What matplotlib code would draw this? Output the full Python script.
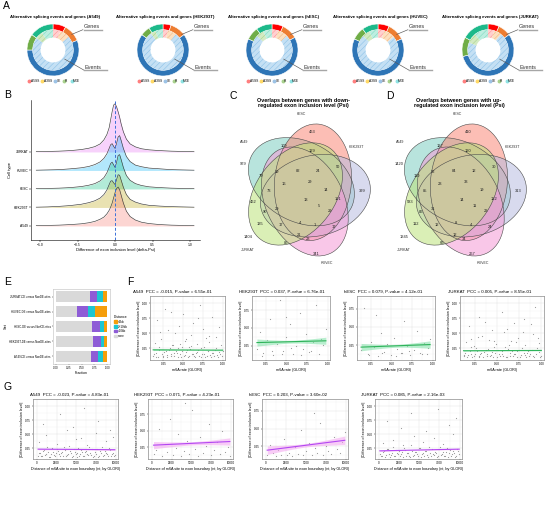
import numpy as np
import matplotlib
matplotlib.use('Agg')
import matplotlib.pyplot as plt
from matplotlib.patches import Ellipse, Patch
from matplotlib.lines import Line2D

plt.rcParams['font.family'] = ['Liberation Sans', 'DejaVu Sans']
plt.rcParams['hatch.linewidth'] = 0.35
plt.rcParams['axes.linewidth'] = 0.4

# ---------------- data ----------------
# A: share (%) of each splicing type, outer ring = genes, inner ring = events
splice_types = ['A5SS', 'A3SS', 'SE', 'RI', 'MXE']
donut_cells = ['A549', 'HEK293T', 'hESC', 'HUVEC', 'JURKAT']
genes_share = [[8, 11, 56, 10, 15], [5, 10, 70, 6, 9], [7, 10, 65, 8, 10],
               [7, 11, 64, 8, 10], [7, 8, 56, 12, 17]]
events_share = [[6, 8, 71, 6, 9], [4, 7, 79, 4, 6], [5, 8, 74, 6, 7],
                [5, 9, 73, 6, 7], [5, 6, 70, 8, 11]]

# B: density of delta-Psi
ridge_cells = ['A549', 'HEK293T', 'hESC', 'HUVEC', 'JURKAT']
ridge_x = [-1.05, -0.9, -0.75, -0.6, -0.45, -0.35, -0.27, -0.2, -0.15, -0.11, -0.08, -0.06,
           -0.04, -0.02, 0.0, 0.02, 0.04, 0.06, 0.08, 0.11, 0.15, 0.2, 0.27, 0.35, 0.45,
           0.6, 0.75, 0.9, 1.05]
dens_A549 = [0.01, 0.02, 0.03, 0.05, 0.08, 0.12, 0.17, 0.25, 0.33, 0.45, 0.58, 0.70, 0.85,
             1.05, 1.25, 1.40, 1.45, 1.35, 1.15, 0.85, 0.55, 0.35, 0.22, 0.14, 0.09, 0.05,
             0.03, 0.02, 0.01]
dens_HEK293T = [0.01, 0.02, 0.04, 0.07, 0.12, 0.18, 0.25, 0.35, 0.48, 0.65, 0.85, 0.98, 1.0,
                0.92, 0.85, 1.05, 1.22, 1.2, 1.02, 0.75, 0.48, 0.30, 0.2, 0.13, 0.08, 0.05,
                0.03, 0.02, 0.01]
dens_hESC = [0.01, 0.02, 0.03, 0.05, 0.09, 0.14, 0.2, 0.3, 0.42, 0.6, 0.8, 0.95, 1.0, 0.9,
             0.8, 1.0, 1.25, 1.28, 1.1, 0.8, 0.5, 0.32, 0.2, 0.13, 0.08, 0.05, 0.03, 0.02, 0.01]
dens_HUVEC = [0.01, 0.02, 0.03, 0.06, 0.1, 0.15, 0.22, 0.32, 0.45, 0.62, 0.82, 0.96, 1.0,
              0.9, 0.82, 1.02, 1.25, 1.3, 1.12, 0.82, 0.52, 0.33, 0.2, 0.14, 0.09, 0.06,
              0.03, 0.02, 0.01]
dens_JURKAT = [0.01, 0.02, 0.03, 0.05, 0.09, 0.14, 0.2, 0.3, 0.45, 0.65, 0.9, 1.2, 1.5,
               1.75, 1.8, 1.68, 1.5, 1.3, 1.05, 0.75, 0.48, 0.3, 0.19, 0.12, 0.08, 0.05,
               0.03, 0.02, 0.01]

# C/D: five-set Venn counts (same region order for both)
venn_sets = ['A549', 'hESC', 'HEK293T', 'HUVEC', 'JURKAT']
down_counts = [463, 109, 129, 979, 79, 19, 82, 24, 50, 399, 16, 29, 73, 14, 462, 13, 101,
               90, 29, 5, 29, 135, 17, 4, 1, 17, 1404, 85, 21, 23, 341]
up_counts = [410, 127, 120, 1420, 110, 32, 84, 12, 30, 313, 23, 33, 85, 19, 583, 14, 122,
             86, 31, 11, 23, 112, 12, 8, 4, 24, 1345, 66, 12, 34, 267]

# E: fraction of m6A distance classes
e_sets = ['JURKAT-DE versus NonDE-sites', 'HUVEC-DE versus NonDE-sites',
          'hESC-DE versus NonDE-sites', 'HEK293T-DE versus NonDE-sites',
          'A549-DE versus NonDE-sites']
dist_classes = ['none', '>10kb', '2~10kb', '<2kb']
frac_none = [0.67, 0.41, 0.70, 0.72, 0.69]
frac_far = [0.13, 0.21, 0.155, 0.15, 0.13]
frac_mid = [0.11, 0.15, 0.08, 0.06, 0.09]
frac_near = [0.09, 0.23, 0.065, 0.07, 0.09]

# F: m6A rate vs |delta-Psi|
f_A549_x = [0.12, 0.15, 0.18, 0.2, 0.23, 0.25, 0.28, 0.3, 0.33, 0.35, 0.38, 0.41, 0.43, 0.46,
            0.48, 0.51, 0.53, 0.56, 0.59, 0.61, 0.64, 0.66, 0.69, 0.72, 0.74, 0.77, 0.8, 0.82,
            0.85, 0.88, 0.9, 0.93, 0.96, 0.99, 0.14, 0.22, 0.31, 0.37, 0.45, 0.52, 0.6, 0.67,
            0.75, 0.83, 0.91, 0.98, 0.17, 0.27, 0.4, 0.5, 0.63, 0.71, 0.79, 0.87, 0.95,
            0.13, 0.16, 0.19, 0.24, 0.26, 0.29, 0.32, 0.34, 0.36, 0.39, 0.42, 0.44, 0.47, 0.49,
            0.52, 0.55, 0.57, 0.6, 0.62, 0.65, 0.68, 0.7, 0.73, 0.76, 0.78, 0.81, 0.84, 0.86,
            0.89, 0.92, 0.94, 0.97, 1.0, 0.21, 0.35, 0.54, 0.69, 0.83, 0.58, 0.46]
f_A549_y = [0.12, 0.18, 0.11, 0.23, 0.15, 0.1, 0.2, 0.14, 0.26, 0.12, 0.17, 0.21, 0.11, 0.16,
            0.28, 0.13, 0.19, 0.1, 0.24, 0.15, 0.12, 0.18, 0.22, 0.11, 0.16, 0.27, 0.13, 0.2,
            0.1, 0.17, 0.23, 0.14, 0.19, 0.12, 0.34, 0.41, 0.55, 0.3, 0.63, 0.38, 0.47, 0.33,
            0.58, 0.36, 0.44, 0.31, 0.72, 0.9, 0.51, 0.82, 0.68, 0.97, 0.43, 0.77, 0.61,
            0.16, 0.1, 0.28, 0.13, 0.19, 0.11, 0.22, 0.15, 0.3, 0.12, 0.17, 0.25, 0.1, 0.2,
            0.14, 0.23, 0.12, 0.29, 0.16, 0.11, 0.19, 0.13, 0.26, 0.15, 0.1, 0.21, 0.14, 0.18,
            0.12, 0.25, 0.11, 0.16, 0.2, 0.52, 0.86, 0.4, 0.75, 0.46, 0.27, 0.33]
f_HEK_x = [0.14, 0.18, 0.22, 0.26, 0.3, 0.34, 0.38, 0.42, 0.46, 0.5, 0.54, 0.58, 0.62, 0.66,
           0.7, 0.74, 0.78, 0.82, 0.86, 0.9, 0.94, 0.98, 0.2, 0.32, 0.44, 0.56, 0.68, 0.8,
           0.92, 0.5]
f_HEK_y = [0.21, 0.45, 0.15, 0.33, 0.62, 0.12, 0.28, 0.9, 0.18, 0.38, 0.55, 0.14, 0.25, 0.71,
           0.2, 0.42, 0.16, 0.31, 0.83, 0.13, 0.26, 0.48, 0.11, 0.18, 0.14, 0.22, 0.12, 0.17,
           0.35, 0.65]
f_hESC_x = [0.13, 0.17, 0.21, 0.25, 0.29, 0.33, 0.37, 0.41, 0.45, 0.49, 0.53, 0.57, 0.61,
            0.65, 0.69, 0.73, 0.77, 0.81, 0.85, 0.89, 0.93, 0.97, 0.23, 0.39, 0.55, 0.71,
            0.87, 0.31, 0.63, 0.95]
f_hESC_y = [0.18, 0.76, 0.13, 0.3, 0.22, 0.11, 0.42, 0.16, 0.27, 0.12, 0.35, 0.2, 0.14, 0.58,
            0.24, 0.12, 0.19, 0.45, 0.15, 0.28, 0.13, 0.33, 0.12, 0.14, 0.11, 0.17, 0.13,
            0.66, 0.15, 0.21]
f_JURKAT_x = [0.13, 0.16, 0.19, 0.21, 0.24, 0.26, 0.29, 0.32, 0.34, 0.37, 0.39, 0.42, 0.44,
              0.47, 0.5, 0.52, 0.55, 0.57, 0.6, 0.62, 0.65, 0.68, 0.7, 0.73, 0.76, 0.78, 0.81,
              0.84, 0.86, 0.89, 0.92, 0.94, 0.97, 1.0, 0.15, 0.24, 0.33, 0.41, 0.49, 0.58,
              0.66, 0.74, 0.82, 0.9, 0.97, 0.18, 0.3, 0.44, 0.56, 0.69, 0.8, 0.93, 0.2, 0.61,
              0.88, 0.12, 0.14, 0.17, 0.2, 0.22, 0.25, 0.27, 0.3, 0.31, 0.35, 0.38, 0.4, 0.43,
              0.45, 0.48, 0.51, 0.53, 0.56, 0.59, 0.61, 0.64, 0.67, 0.69, 0.72, 0.75, 0.77,
              0.8, 0.83, 0.85, 0.87, 0.91, 0.95, 0.98, 0.28, 0.46, 0.63, 0.79, 0.96, 0.36, 0.71]
f_JURKAT_y = [0.14, 0.11, 0.2, 0.16, 0.12, 0.25, 0.13, 0.18, 0.1, 0.22, 0.15, 0.12, 0.19,
              0.27, 0.11, 0.16, 0.21, 0.13, 0.1, 0.24, 0.17, 0.12, 0.15, 0.2, 0.11, 0.26,
              0.14, 0.18, 0.12, 0.23, 0.1, 0.16, 0.19, 0.13, 0.35, 0.29, 0.46, 0.39, 0.32,
              0.52, 0.37, 0.43, 0.3, 0.49, 0.34, 0.62, 0.78, 0.56, 0.85, 0.68, 0.74, 0.94,
              0.41, 0.58, 0.66, 0.12, 0.18, 0.14, 0.27, 0.11, 0.16, 0.21, 0.1, 0.15, 0.19,
              0.12, 0.24, 0.14, 0.1, 0.17, 0.22, 0.12, 0.15, 0.28, 0.11, 0.13, 0.2, 0.16, 0.1,
              0.23, 0.14, 0.18, 0.11, 0.21, 0.15, 0.13, 0.26, 0.11, 0.44, 0.38, 0.31, 0.53,
              0.42, 0.69, 0.36]
f_titles = ['A549  PCC = -0.015, P-value = 6.55e-01', 'HEK293T  PCC = 0.037, P-value = 6.76e-01',
            'hESC  PCC = 0.079, P-value = 4.12e-01', 'JURKAT  PCC = 0.005, P-value = 8.55e-01']
f_fit = [(0.225, 0.22), (0.295, 0.32), (0.225, 0.26), (0.21, 0.215)]
f_band = [(0.006, 0.012), (0.02, 0.05), (0.02, 0.05), (0.004, 0.008)]

# G: distance to exon boundary vs |delta-Psi|
g_A549_x = [150, 400, 650, 900, 1150, 1400, 1650, 1900, 2150, 2400, 2650, 2900, 3150, 3400,
            3650, 3900, 4150, 4400, 4650, 4900, 5150, 5400, 5650, 5900, 6150, 6400, 6650,
            6900, 7150, 7400, 7650, 7900, 8150, 8400, 8650, 8900, 9150, 9400, 9650, 9900,
            300, 1200, 2500, 3800, 5000, 6300, 7500, 8800, 9700, 800, 2900, 4600, 6000,
            7800, 9300, 250, 520, 780, 1030, 1280, 1530, 1780, 2030, 2280, 2530, 2780, 3030,
            3280, 3530, 3780, 4030, 4280, 4530, 4780, 5030, 5280, 5530, 5780, 6030, 6280,
            6530, 6780, 7030, 7280, 7530, 7780, 8030, 8280, 8530, 8780, 9030, 9280, 9530,
            9780, 5600]
g_A549_y = [0.12, 0.17, 0.11, 0.22, 0.14, 0.19, 0.1, 0.25, 0.13, 0.16, 0.21, 0.11, 0.18,
            0.28, 0.12, 0.15, 0.2, 0.1, 0.24, 0.14, 0.17, 0.12, 0.22, 0.11, 0.19, 0.15, 0.27,
            0.13, 0.1, 0.18, 0.23, 0.12, 0.16, 0.11, 0.2, 0.14, 0.26, 0.12, 0.17, 0.13, 0.36,
            0.48, 0.33, 0.57, 0.41, 0.3, 0.52, 0.38, 0.45, 0.68, 0.86, 0.62, 0.97, 0.74, 0.58,
            0.16, 0.11, 0.2, 0.13, 0.27, 0.1, 0.15, 0.19, 0.12, 0.24, 0.14, 0.17, 0.11, 0.22,
            0.13, 0.29, 0.16, 0.12, 0.19, 0.1, 0.25, 0.14, 0.18, 0.11, 0.21, 0.13, 0.16, 0.23,
            0.12, 0.15, 0.1, 0.2, 0.27, 0.13, 0.17, 0.11, 0.22, 0.15, 0.12, 0.44]
g_HEK_x = [200, 550, 900, 1250, 1600, 1950, 2300, 2650, 3000, 3350, 3700, 4050, 4400, 4750,
           5100, 5450, 5800, 6150, 6500, 6850, 7200, 7550, 7900, 8250, 8600, 8950, 9300,
           9650, 9900, 4200]
g_HEK_y = [0.14, 0.2, 0.52, 0.12, 0.3, 0.17, 0.68, 0.13, 0.24, 0.45, 0.11, 0.19, 0.35, 0.15,
           0.82, 0.22, 0.12, 0.4, 0.16, 0.27, 0.6, 0.13, 0.21, 0.33, 0.14, 0.5, 0.18, 0.25,
           0.12, 0.92]
g_hESC_x = [150, 500, 850, 1200, 1550, 1900, 2250, 2600, 2950, 3300, 3650, 4000, 4350, 4700,
            5050, 5400, 5750, 6100, 6450, 6800, 7150, 7500, 7850, 8200, 8550, 8900, 9250,
            9600, 9900, 6000]
g_hESC_y = [0.12, 0.27, 0.15, 0.11, 0.2, 0.13, 0.35, 0.12, 0.16, 0.11, 0.24, 0.14, 0.48,
            0.12, 0.18, 0.3, 0.13, 0.22, 0.15, 0.58, 0.12, 0.26, 0.19, 0.14, 0.38, 0.21,
            0.16, 0.31, 0.45, 0.72]
g_JURKAT_x = [100, 350, 600, 850, 1100, 1350, 1600, 1850, 2100, 2350, 2600, 2850, 3100, 3350,
              3600, 3850, 4100, 4350, 4600, 4850, 5100, 5350, 5600, 5850, 6100, 6350, 6600,
              6850, 7100, 7350, 7600, 7850, 8100, 8350, 8600, 8850, 9100, 9350, 9600, 9850,
              500, 1700, 3000, 4300, 5500, 6800, 8000, 9200, 1000, 2700, 4000, 5800, 7300,
              8700, 9500, 200, 450, 700, 950, 1200, 1450, 1700, 1950, 2200, 2450, 2700, 2950,
              3200, 3450, 3700, 3950, 4200, 4450, 4700, 4950, 5200, 5450, 5700, 5950, 6200,
              6450, 6700, 6950, 7200, 7450, 7700, 7950, 8200, 8450, 8700, 8950, 9200, 9450,
              9700, 9950]
g_JURKAT_y = [0.15, 0.11, 0.2, 0.13, 0.24, 0.1, 0.17, 0.12, 0.22, 0.14, 0.11, 0.19, 0.26,
              0.12, 0.16, 0.1, 0.21, 0.13, 0.18, 0.11, 0.25, 0.14, 0.12, 0.2, 0.1, 0.16, 0.23,
              0.13, 0.17, 0.11, 0.28, 0.15, 0.12, 0.19, 0.1, 0.22, 0.14, 0.17, 0.12, 0.2,
              0.34, 0.4, 0.31, 0.47, 0.36, 0.43, 0.33, 0.5, 0.73, 0.61, 0.88, 0.55, 0.95,
              0.67, 0.79, 0.12, 0.18, 0.1, 0.23, 0.15, 0.13, 0.27, 0.11, 0.17, 0.2, 0.14, 0.1,
              0.22, 0.16, 0.12, 0.3, 0.11, 0.19, 0.14, 0.25, 0.1, 0.17, 0.21, 0.13, 0.28, 0.12,
              0.15, 0.19, 0.1, 0.24, 0.13, 0.18, 0.11, 0.26, 0.16, 0.12, 0.2, 0.1, 0.23, 0.15]
g_titles = ['A549  PCC = -0.023, P-value = 4.83e-01', 'HEK293T  PCC = 0.071, P-value = 4.23e-01',
            'hESC  PCC = 0.203, P-value = 3.60e-02', 'JURKAT  PCC = 0.085, P-value = 2.16e-03']
g_fit = [(0.235, 0.225), (0.28, 0.335), (0.195, 0.335), (0.205, 0.235)]
g_band = [(0.006, 0.012), (0.025, 0.055), (0.025, 0.06), (0.004, 0.009)]

# ---------------- figure ----------------
W, H = 546, 505
fig = plt.figure(figsize=(W / 100, H / 100), dpi=100)


def px_axes(x0, y0, x1, y1):
    return fig.add_axes([x0 / W, 1 - y1 / H, (x1 - x0) / W, (y1 - y0) / H])


def fig_text(x, y, s, **kw):
    fig.text(x / W, 1 - y / H, s, **kw)


for lab, (x, y) in zip('ABCDEFG', [(3, 1), (4, 90), (230, 91), (386, 91),
                                   (4, 277), (127, 277), (4, 382)]):
    fig_text(x, y, lab, fontsize=7.5, va='top', ha='left')

# ---- A: donuts ----
outer_cols = ['#FF0000', '#ED7D31', '#2E75B6', '#70AD47', '#1DB98A']
inner_cols = ['#FFD0D0', '#FCE0C0', '#C4E0F4', '#D3EAC2', '#BDEEE0']
hatch_cols = ['#FF8C8C', '#F3B27A', '#86BEE6', '#A3D085', '#78D9BF']
legend_cols = ['#FF7F7F', '#FFD966', '#9DC3E6', '#A9D18E', '#8FE3E3']
donut_cx = [53, 163, 272, 378, 488]
R = 26
for i, cell in enumerate(donut_cells):
    cx, cy = donut_cx[i], 50
    ax = px_axes(cx - 1.1 * R, cy - 1.1 * R, cx + 2.2 * R, cy + 1.1 * R)
    ax.pie(genes_share[i], radius=1, startangle=90, counterclock=False, colors=outer_cols,
           wedgeprops=dict(width=0.22, edgecolor='white', linewidth=0.4))
    wedges, _ = ax.pie(events_share[i], radius=0.78, startangle=90, counterclock=False,
                       colors=inner_cols, hatch='//////',
                       wedgeprops=dict(width=0.3, linewidth=0))
    for w, hc in zip(wedges, hatch_cols):
        w.set_edgecolor(hc)
    ax.set_aspect('auto')
    ax.set_xlim(-1.1, 2.2)
    ax.set_ylim(-1.1, 1.1)
    ax.axis('off')
    ax.plot([0.72, 1.15], [0.6, 0.78], color='#555555', lw=0.45)
    ax.text(1.2, 0.8, 'Genes', fontsize=4, va='bottom', ha='left', color='#333333')
    ax.plot([1.18, 1.88], [0.78, 0.78], color='#A6A6A6', lw=1.0)
    ax.plot([0.45, 1.2], [-0.35, -0.78], color='#555555', lw=0.45)
    ax.text(1.22, -0.76, 'Events', fontsize=4, va='bottom', ha='left', color='#333333')
    ax.plot([1.2, 2.08], [-0.78, -0.78], color='#A6A6A6', lw=1.0)
    fig_text(cx + 2, 17, 'Alternative splicing events and genes (%s)' % cell,
             fontsize=3.1, fontweight='bold', ha='center', va='center')
    handles = [Line2D([], [], marker='o', ls='', color=c, markersize=1.8) for c in legend_cols]
    fig.legend(handles, splice_types, loc='center', ncol=5, fontsize=2.3,
               bbox_to_anchor=((cx + 1) / W, 1 - 81 / H), frameon=False,
               handletextpad=0.05, columnspacing=0.6, handlelength=0.8)

# ---- B: ridgeline ----
ridge_dens = [dens_A549, dens_HEK293T, dens_hESC, dens_HUVEC, dens_JURKAT]
ridge_cols = ['#F8766D', '#B7A000', '#00BF7D', '#00B0F6', '#E76BF3']
ridge_scale = 1.45
axB = px_axes(31, 100, 200, 240)
for k in range(4, -1, -1):
    top = np.array(ridge_dens[k]) * ridge_scale + k
    axB.fill_between(ridge_x, k, top, color=ridge_cols[k], alpha=0.3, lw=0)
    axB.plot(ridge_x, top, color='#3A3A3A', lw=0.45)
axB.axvline(0, color='#3B6FD8', lw=0.7, ls=(0, (3, 2)))
axB.set_xlim(-1.12, 1.13)
axB.set_ylim(-0.76, 6.81)
axB.set_yticks(range(5))
axB.set_yticklabels(ridge_cells)
axB.set_xticks([-1.0, -0.5, 0.0, 0.5, 1.0])
axB.tick_params(labelsize=2.4, length=1.2, width=0.35, pad=0.8)
axB.spines['top'].set_visible(False)
axB.spines['right'].set_visible(False)
axB.set_xlabel('Difference of exon inclusion level (delta-Psi)', fontsize=3, labelpad=0.8)
axB.set_ylabel('Cell type', fontsize=3, labelpad=1)

# ---- C/D: Venn ----
venn_cols = ['#7FCFC2', '#FB8A78', '#B8BCE0', '#F59AD6', '#BDE27A']
ell_center = [(-0.036, 0.069), (0.054, 0.065), (0.073, -0.035), (-0.009, -0.078), (-0.082, -0.022)]
ell_angle = [155, 84, 12, 120, 48]
S = 128
ell_w, ell_h = 0.87, 0.6
lab_kx, lab_ky, lab_dy = 1.2, 1.19, -8.5
y_stretch = 1.05
venn_label_xy = [(5, 54), (-18.5, 43), (5, 39), (-52, 29), (-37.5, 19), (-24, 22), (-7, 23),
                 (10, 23), (27, 26), (47, 7), (-18.5, 12.5), (3, 14.5), (-30.5, 7), (16.5, 8),
                 (-43.5, -1.3), (0, 0), (26.5, 0.5), (-33.7, -9.5), (-24, -7.6), (10.7, -5),
                 (20, -8.6), (-38, -19), (-20.8, -20), (-5.3, -18.3), (7.6, -19.7),
                 (23, -21.3), (-48, -30), (-16.5, -34.5), (-6, -28.3), (2, -31.3), (8.5, -43)]
set_label_xy = [(-62, 46.3), (-5, 73.7), (50, 41.7), (21, -68.6), (-58, -56.6)]
venn_titles = ['Overlaps between genes with down-\nregulated exon inclusion level (Psi)',
               'Overlaps between genes with up-\nregulated exon inclusion level (Psi)']
for counts, vcx, title in zip([down_counts, up_counts], [306, 462], venn_titles):
    vcy = 191
    ax = px_axes(vcx - 80, vcy - 80 * y_stretch, vcx + 80, vcy + 80 * y_stretch)
    for (ex, ey), ang, col in zip(ell_center, ell_angle, venn_cols):
        ax.add_patch(Ellipse((ex * S, ey * S), ell_w * S, ell_h * S, angle=ang,
                             facecolor=col, alpha=0.55, edgecolor='none'))
    for (ex, ey), ang in zip(ell_center, ell_angle):
        ax.add_patch(Ellipse((ex * S, ey * S), ell_w * S, ell_h * S, angle=ang,
                             fill=False, edgecolor='#4A4A4A', lw=0.4))
    for (lx, ly), n in zip(venn_label_xy, counts):
        ax.text(lx * lab_kx, ly * lab_ky + lab_dy, str(n), fontsize=2.9, ha='center',
                va='center', color='#222222')
    for (lx, ly), name in zip(set_label_xy, venn_sets):
        ax.text(lx, ly, name, fontsize=2.6, ha='center', va='center', color='#333333')
    ax.set_xlim(-80, 80)
    ax.set_ylim(-80, 80)
    ax.axis('off')
    fig_text(vcx - 3, 103, title, fontsize=3.9, fontweight='bold', ha='center', va='center',
             linespacing=1.1)

# ---- E: stacked bars ----
dist_cols = {'none': '#D9D9D9', '>10kb': '#8E5CD6', '2~10kb': '#1CC6D2', '<2kb': '#F59E0B'}
axE = px_axes(53, 289, 110, 364)
ypos = np.arange(5)[::-1]
left = np.zeros(5)
for cls, vals in zip(dist_classes, [frac_none, frac_far, frac_mid, frac_near]):
    axE.barh(ypos, vals, left=left, height=0.74, color=dist_cols[cls], lw=0)
    left = left + np.array(vals)
axE.set_xlim(-0.05, 1.05)
axE.set_ylim(-0.52, 4.51)
axE.set_yticks(ypos)
axE.set_yticklabels(e_sets)
axE.set_xticks([0, 0.25, 0.5, 0.75, 1.0])
axE.set_xticklabels(['0.00', '0.25', '0.50', '0.75', '1.00'])
axE.tick_params(labelsize=2.0, length=1, width=0.3, pad=0.6)
for sp in axE.spines.values():
    sp.set_color('#BDBDBD')
axE.set_xlabel('Fraction', fontsize=2.6, labelpad=0.6)
axE.set_ylabel('Set', fontsize=2.8, labelpad=1)
leg_handles = [Patch(color=dist_cols[c]) for c in ['<2kb', '2~10kb', '>10kb', 'none']]
axE.legend(leg_handles, ['<2kb', '2~10kb', '>10kb', 'none'], title='Distance',
           loc='center left', bbox_to_anchor=(1.02, 0.5), fontsize=2.2, title_fontsize=2.5,
           frameon=False, handlelength=0.9, handleheight=0.9, labelspacing=0.25,
           handletextpad=0.4, alignment='left')


# ---- F/G: scatter panels ----
def scatter_panel(box, title_x, title, xs, ys, fit, band, xlim, ylim, yticks, xticks,
                  xticklabels, xminor, xlabel, line_col, band_col):
    ax = px_axes(*box)
    ax.set_xlim(xlim)
    ax.set_ylim(ylim)
    ax.set_xticks(xticks)
    ax.set_xticklabels(xticklabels)
    ax.set_yticks(yticks)
    ax.set_yticklabels(['%.2f' % v for v in yticks])
    ax.set_xticks(xminor, minor=True)
    ax.set_yticks([v + 0.125 for v in [0.0] + list(yticks)], minor=True)
    ax.grid(True, which='major', color='#E3E3E3', lw=0.35)
    ax.grid(True, which='minor', color='#F0F0F0', lw=0.25)
    ax.tick_params(which='minor', length=0)
    ax.set_axisbelow(True)
    ax.scatter(xs, ys, s=0.7, color='#979797', linewidths=0)
    x0, x1 = min(xs), max(xs)
    xl = np.linspace(x0, x1, 60)
    t = (xl - (x0 + x1) / 2) / ((x1 - x0) / 2)
    yl = fit[0] + (fit[1] - fit[0]) * (xl - x0) / (x1 - x0)
    hw = np.sqrt(band[0] ** 2 + (band[1] ** 2 - band[0] ** 2) * t ** 2)
    ax.fill_between(xl, yl - hw, yl + hw, color=band_col, alpha=0.55, lw=0)
    ax.plot(xl, yl, color=line_col, lw=0.8)
    ax.tick_params(labelsize=2.2, length=1, width=0.3, pad=0.6)
    for sp in ax.spines.values():
        sp.set_color('#8C8C8C')
        sp.set_linewidth(0.5)
    ax.set_xlabel(xlabel, fontsize=2.7, labelpad=1)
    ax.set_ylabel('|Difference of exon inclusion level|', fontsize=2.6, labelpad=1)
    fig_text(title_x, box[1] - 2, title, fontsize=3.2, ha='left', va='bottom')
    return ax


f_data = [(f_A549_x, f_A549_y), (f_HEK_x, f_HEK_y), (f_hESC_x, f_hESC_y),
          (f_JURKAT_x, f_JURKAT_y)]
f_boxes = [(150, 296, 225, 360), (252, 296, 330, 360), (357, 296, 435, 360),
           (460, 296, 544, 360)]
f_title_x = [133, 239, 344, 448]
f_ylims = [(0.055, 1.045), (0.05, 0.95), (0.05, 0.92), (0.055, 1.045)]
f_yticks = [[0.25, 0.5, 0.75, 1.0], [0.25, 0.5, 0.75], [0.25, 0.5, 0.75], [0.25, 0.5, 0.75, 1.0]]
for i in range(4):
    scatter_panel(f_boxes[i], f_title_x[i], f_titles[i], f_data[i][0], f_data[i][1], f_fit[i],
                  f_band[i], (0.08, 1.03), f_ylims[i], f_yticks[i], [0.25, 0.5, 0.75, 1.0],
                  ['0.25', '0.50', '0.75', '1.00'], [0.125, 0.375, 0.625, 0.875],
                  'm6A rate (GLORI)', '#2FB35A', '#7EE0A6')

g_data = [(g_A549_x, g_A549_y), (g_HEK_x, g_HEK_y), (g_hESC_x, g_hESC_y),
          (g_JURKAT_x, g_JURKAT_y)]
g_boxes = [(33, 399, 118, 459), (148, 399, 233, 459), (262, 399, 348, 459),
           (375, 399, 462, 459)]
g_title_x = [30, 134, 249, 361]
g_ylims = [(0.06, 1.02), (0.07, 0.98), (0.07, 0.92), (0.06, 1.02)]
g_yticks = [[0.25, 0.5, 0.75, 1.0], [0.25, 0.5, 0.75], [0.25, 0.5, 0.75], [0.25, 0.5, 0.75, 1.0]]
for i in range(4):
    scatter_panel(g_boxes[i], g_title_x[i], g_titles[i], g_data[i][0], g_data[i][1], g_fit[i],
                  g_band[i], (-500, 10300), g_ylims[i], g_yticks[i], [0, 2500, 5000, 7500, 10000],
                  ['0', '2500', '5000', '7500', '10000'], [1250, 3750, 6250, 8750],
                  'Distance of m6A site to exon boundary (nt, by GLORI)', '#B347F2', '#F4A3F0')

fig.savefig('out.png', dpi=100)
